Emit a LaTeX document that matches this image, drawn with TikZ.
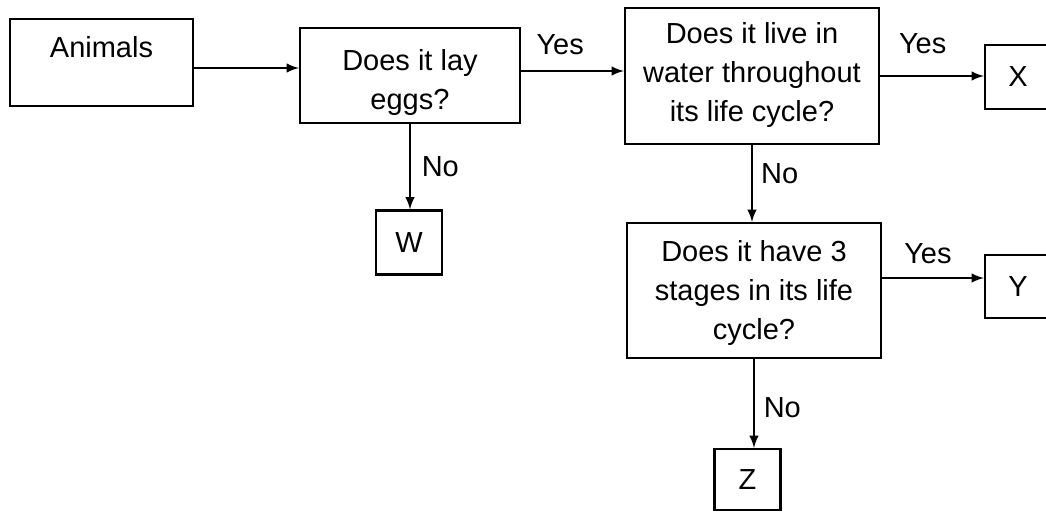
\documentclass[tikz,border=0pt]{standalone}
\usepackage{fontspec}
\setmainfont{Liberation Sans}
\usetikzlibrary{positioning, arrows}

\begin{document}
\begin{tikzpicture}[x=0.5pt,y=-0.5pt,>=latex,line width=1.1pt,
    font=\fontsize{14.5}{19.5}\selectfont,
    box/.style={draw,rectangle,align=center,inner sep=0pt},
    leaf/.style={box,minimum width=33pt,minimum height=32pt}]
  \path[use as bounding box,clip] (0,0) rectangle (1046,513);
  \node[box, minimum width=91.5pt, text height=19.5pt, text depth=24pt] (anim) at (101.5,62.5) {Animals};
  \node[box, minimum width=110pt, text height=41pt, text depth=6.5pt] (eggs) at (410,75.5) {Does it lay\\eggs?};
  \node[box, minimum width=127pt, text height=57pt, text depth=11pt] (water) at (752,76) {Does it live in\\water throughout\\its life cycle?};
  \node[box, minimum width=127pt, text height=58.5pt, text depth=9pt] (stages) at (754,290.5) {Does it have 3\\stages in its life\\cycle?};
  \node[leaf] (w) at (409,242.5) {W};
  \node[leaf] (x) at (1018,77) {X};
  \node[leaf, minimum height=31.5pt] (y) at (1018,286.5) {Y};
  \node[leaf, minimum height=30.5pt] (z) at (747.5,479.5) {Z};
  \draw[->] ([yshift=-2.75pt]anim.east) -- ([yshift=-2.75pt]anim.east -| eggs.west);
  \draw[->] ([yshift=2.25pt]eggs.east) -- ([yshift=2.25pt]eggs.east -| water.west)
    node[pos=0.38, above=4pt] {Yes};
  \draw[->] (water.east) -- (water.east -| x.west)
    node[pos=0.41, above=7pt] {Yes};
  \draw[->] ([yshift=6.25pt]stages.east) -- ([yshift=6.25pt]stages.east -| y.west)
    node[pos=0.45, above=3pt] {Yes};
  \draw[->] (eggs.south) -- (eggs.south |- w.north)
    node[pos=0.5, right=2pt] {No};
  \draw[->] (water.south) -- (water.south |- stages.north)
    node[pos=0.37, right=0.7pt] {No};
  \draw[->] (stages.south) -- (stages.south |- z.north)
    node[pos=0.55, right=1pt] {No};
\end{tikzpicture}
\end{document}
